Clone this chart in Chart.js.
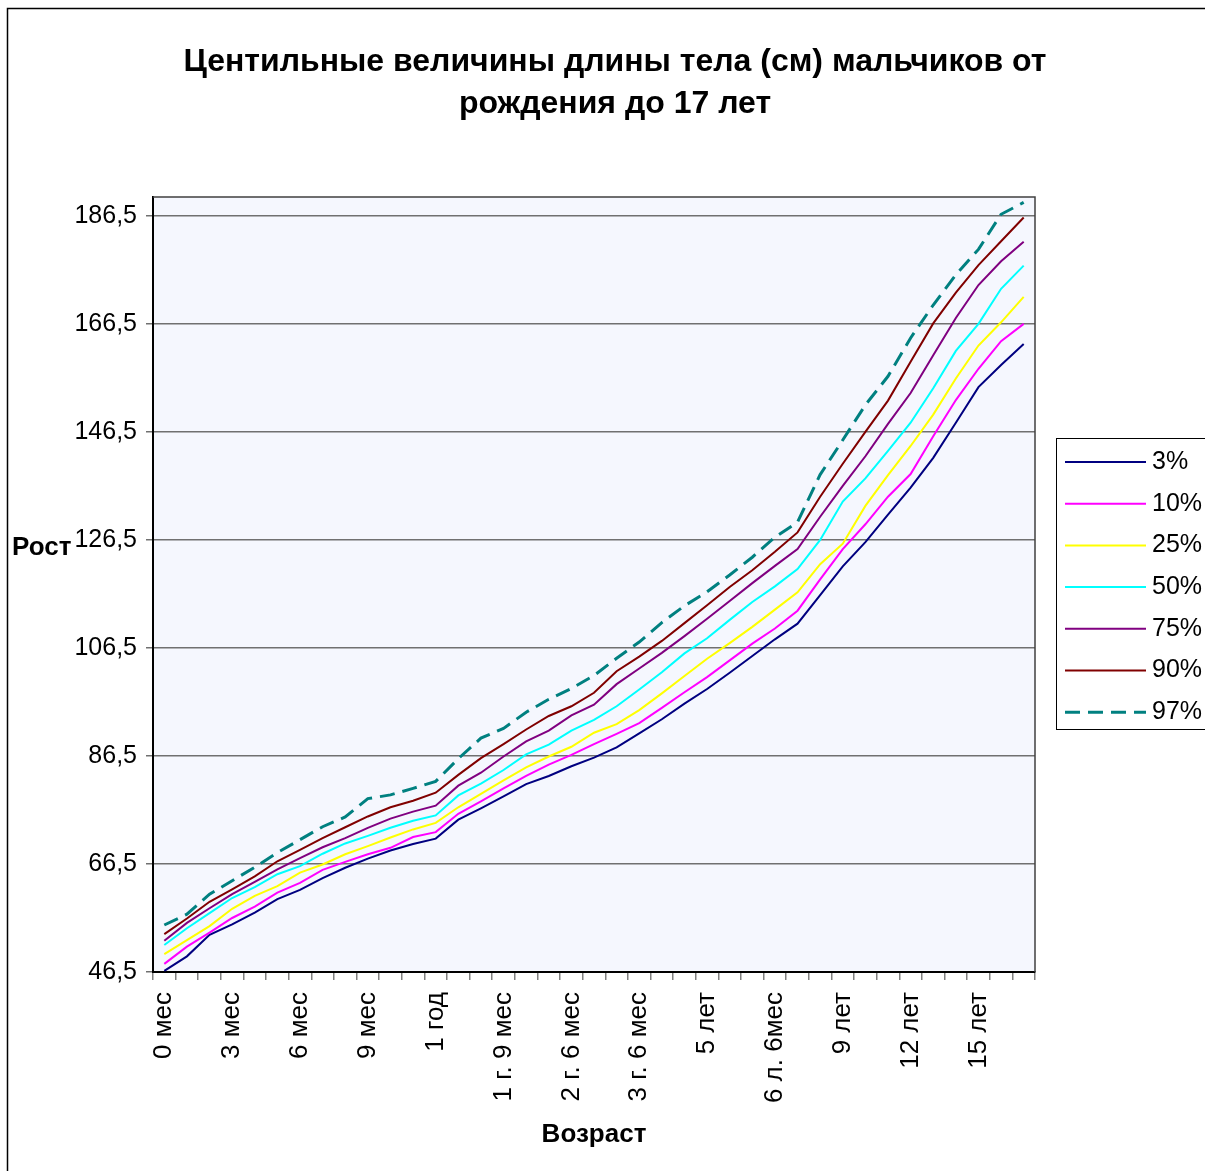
<!DOCTYPE html>
<html lang="ru">
<head>
<meta charset="utf-8">
<title>Центильные величины длины тела</title>
<script src="https://cdn.jsdelivr.net/npm/chart.js"></script>
<style>
  html, body { margin: 0; padding: 0; background: #fff; }
  #wrap { width: 1205px; height: 1171px; }
</style>
</head>
<body>
<div id="wrap"><canvas id="chart" width="1205" height="1171"></canvas></div>
<script>
// age categories (only every third is printed under the axis)
const ages = ['0 мес', '1 мес', '2 мес', '3 мес', '4 мес', '5 мес', '6 мес', '7 мес', '8 мес', '9 мес', '10 мес', '11 мес',
  '1 год', '1 г. 3 мес', '1 г. 6 мес', '1 г. 9 мес', '2 г.', '2 г. 3 мес', '2 г. 6 мес', '2 г. 9 мес', '3 г.', '3 г. 6 мес',
  '4 г.', '4 г. 6 мес', '5 лет', '5 л. 6 мес', '6 лет', '6 л. 6мес', '7 лет', '8 лет', '9 лет', '10 лет', '11 лет',
  '12 лет', '13 лет', '14 лет', '15 лет', '16 лет', '17 лет'];

const yTicks = [46.5, 66.5, 86.5, 106.5, 126.5, 146.5, 166.5, 186.5];

// centiles, cm
const p3 = [46.7, 49.4, 53.4, 55.3, 57.5, 60.0, 61.7, 63.9, 65.8, 67.5, 69.0, 70.2, 71.2, 74.7, 76.8, 79.0, 81.3, 82.8, 84.6, 86.2,
  88.1, 90.7, 93.3, 96.2, 98.9, 101.9, 105.0, 108.1, 111.0, 116.3, 121.6, 126.1, 131.2, 136.2, 141.7, 148.2, 154.8, 158.9, 162.8];
const p10 = [48.0, 51.2, 53.8, 56.5, 58.6, 61.2, 63.0, 65.4, 66.9, 68.3, 69.5, 71.5, 72.4, 75.8, 78.1, 80.5, 82.8, 84.9, 86.7, 88.7,
  90.6, 92.6, 95.4, 98.3, 101.1, 104.2, 107.3, 110.1, 113.4, 119.2, 124.8, 129.4, 134.5, 138.7, 145.7, 152.4, 158.2, 163.3, 166.5];
const p25 = [49.8, 52.4, 55.0, 58.2, 60.6, 62.4, 64.9, 66.4, 68.3, 69.8, 71.4, 72.9, 74.1, 77.0, 79.5, 82.0, 84.4, 86.4, 88.2, 90.8,
  92.4, 95.0, 98.1, 101.3, 104.5, 107.4, 110.4, 113.6, 116.8, 122.0, 125.8, 132.8, 138.5, 143.9, 149.7, 156.4, 162.5, 166.8, 171.5];
const p50 = [51.5, 54.6, 57.4, 60.2, 62.2, 64.6, 66.1, 68.4, 70.3, 71.7, 73.2, 74.5, 75.5, 79.2, 81.4, 83.9, 86.8, 88.6, 91.2, 93.2,
  95.7, 98.8, 102.0, 105.5, 108.3, 111.7, 115.0, 117.9, 121.1, 126.5, 133.6, 137.9, 143.0, 148.2, 154.6, 161.5, 166.5, 173.0, 177.3];
const p75 = [52.3, 55.6, 58.3, 60.9, 63.2, 65.5, 67.6, 69.6, 71.3, 73.2, 74.9, 76.2, 77.3, 81.0, 83.4, 86.4, 89.2, 91.2, 94.0, 96.0,
  99.8, 102.7, 105.6, 108.7, 111.9, 115.2, 118.5, 121.7, 124.8, 130.8, 136.5, 142.0, 148.0, 153.7, 160.7, 167.6, 173.7, 178.1, 181.7];
const p90 = [53.5, 56.4, 59.5, 61.8, 64.2, 67.0, 69.1, 71.3, 73.3, 75.3, 77.0, 78.2, 79.7, 83.0, 86.1, 88.7, 91.4, 93.9, 95.7, 98.2,
  102.2, 104.9, 107.8, 111.1, 114.4, 117.8, 120.9, 124.3, 127.9, 134.5, 140.6, 146.5, 152.3, 159.5, 166.6, 172.3, 177.4, 181.8, 186.2];
const p97 = [55.2, 57.2, 60.9, 63.4, 65.9, 68.6, 71.0, 73.4, 75.2, 78.6, 79.3, 80.5, 81.8, 86.0, 89.8, 91.6, 94.6, 97.0, 99.0, 101.4,
  104.6, 107.6, 111.2, 114.3, 116.9, 120.0, 123.3, 127.0, 129.8, 138.6, 145.0, 151.5, 156.8, 163.9, 170.0, 175.6, 180.3, 186.8, 189.0];

const FONT = "'Liberation Sans', Arial, sans-serif";

const series = [
  { label: '3%', data: p3, color: '#000080' },
  { label: '10%', data: p10, color: '#FF00FF' },
  { label: '25%', data: p25, color: '#FFFF00' },
  { label: '50%', data: p50, color: '#00FFFF' },
  { label: '75%', data: p75, color: '#800080' },
  { label: '90%', data: p90, color: '#800000' },
  { label: '97%', data: p97, color: '#008080', dash: [15, 8], width: 3 }
];

// background, frame, title, horizontal "Рост" and the legend box
const decor = {
  id: 'decor',
  beforeDraw(chart) {
    const { ctx, chartArea: a } = chart;
    ctx.save();
    ctx.fillStyle = '#fff';
    ctx.fillRect(0, 0, chart.width, chart.height);
    ctx.strokeStyle = '#000';
    ctx.lineWidth = 1.5;
    ctx.beginPath();
    ctx.moveTo(7.5, chart.height);
    ctx.lineTo(7.5, 8.5);
    ctx.lineTo(chart.width, 8.5);
    ctx.stroke();
    ctx.fillStyle = '#F5F7FE';
    ctx.fillRect(a.left, a.top, a.right - a.left, a.bottom - a.top);
    ctx.restore();
  },
  afterDraw(chart) {
    const { ctx, chartArea: a } = chart;
    ctx.save();
    // top and right edges of the plot
    ctx.strokeStyle = '#404040';
    ctx.lineWidth = 1.5;
    ctx.beginPath();
    ctx.moveTo(a.left, a.top);
    ctx.lineTo(a.right, a.top);
    ctx.lineTo(a.right, a.bottom);
    ctx.stroke();

    ctx.fillStyle = '#000';
    ctx.textAlign = 'center';
    ctx.textBaseline = 'middle';
    ctx.font = 'bold 32px ' + FONT;
    ctx.fillText('Центильные величины длины тела (см) мальчиков от', 615, 62);
    ctx.fillText('рождения до 17 лет', 615, 104);

    ctx.textAlign = 'left';
    ctx.font = 'bold 26px ' + FONT;
    ctx.fillText('Рост', 12, 548);

    // legend
    ctx.strokeStyle = '#000';
    ctx.lineWidth = 1;
    ctx.strokeRect(1056.5, 438.5, 200, 291);
    ctx.font = '25px ' + FONT;
    chart.data.datasets.forEach((ds, i) => {
      const y = 462 + i * 41.7;
      ctx.strokeStyle = ds.borderColor;
      ctx.lineWidth = ds.borderWidth;
      ctx.setLineDash(ds.borderDash || []);
      ctx.beginPath();
      ctx.moveTo(1065, y);
      ctx.lineTo(1146, y);
      ctx.stroke();
      ctx.setLineDash([]);
      ctx.fillStyle = '#000';
      ctx.fillText(ds.label, 1152, y);
    });
    ctx.restore();
  }
};

new Chart(document.getElementById('chart'), {
  type: 'line',
  data: {
    labels: ages,
    datasets: series.map((s, i) => ({
      label: s.label,
      data: s.data,
      borderColor: s.color,
      backgroundColor: s.color,
      borderWidth: s.width || 2,
      borderDash: s.dash || [],
      pointRadius: 0,
      tension: 0,
      fill: false,
      order: series.length - i
    }))
  },
  options: {
    responsive: false,
    animation: false,
    layout: { padding: { left: 0, right: 170, top: 197, bottom: 0 } },
    plugins: {
      legend: { display: false },
      title: { display: false },
      tooltip: { enabled: false }
    },
    scales: {
      x: {
        type: 'category',
        offset: true,
        grid: { offset: true, drawOnChartArea: false, drawTicks: true, tickLength: 8, color: '#808080', lineWidth: 1.5 },
        border: { color: '#000', width: 2 },
        ticks: {
          autoSkip: false,
          maxRotation: 90,
          minRotation: 90,
          padding: 12,
          color: '#000',
          font: { family: FONT, size: 26 },
          callback: (v, i) => (i % 3 === 0 ? ages[i] : '')
        },
        title: {
          display: true,
          text: 'Возраст',
          color: '#000',
          font: { family: FONT, size: 26, weight: 'bold' },
          padding: { top: 0, bottom: 21 }
        },
        afterFit: (s) => { s.height = 199; }
      },
      y: {
        min: 46.5,
        max: 190,
        afterBuildTicks: (s) => { s.ticks = yTicks.map((v) => ({ value: v })); },
        grid: { color: '#707070', lineWidth: 1.5, tickLength: 7, drawTicks: true },
        border: { color: '#000', width: 2 },
        ticks: {
          padding: 9,
          color: '#000',
          font: { family: FONT, size: 25 },
          callback: (v) => v.toFixed(1).replace('.', ',')
        },
        afterFit: (s) => { s.width = 153; }
      }
    }
  },
  plugins: [decor]
});
</script>
</body>
</html>
